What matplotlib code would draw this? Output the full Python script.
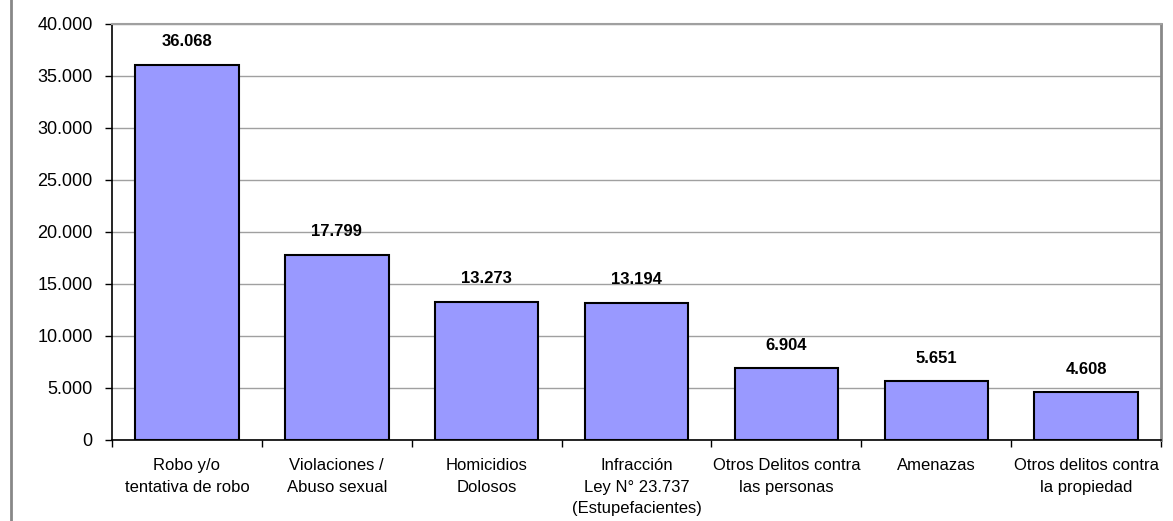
# Bar chart: number of cases per crime type (Spanish labels, Excel style)

import matplotlib.pyplot as plt
from matplotlib.lines import Line2D
from matplotlib.ticker import FuncFormatter, MultipleLocator, FixedLocator

# Data
categories = [
    "Robo y/o\ntentativa de robo",
    "Violaciones /\nAbuso sexual",
    "Homicidios\nDolosos",
    "Infracción\nLey N° 23.737\n(Estupefacientes)",
    "Otros Delitos contra\nlas personas",
    "Amenazas",
    "Otros delitos contra\nla propiedad",
]
values = [36068, 17799, 13273, 13194, 6904, 5651, 4608]

bar_color = '#9999FF'
grid_color = '#A0A0A0'

plt.rcParams['font.family'] = 'Liberation Sans'


def miles(v, pos=None):
    # thousands separator with a dot
    return f"{int(v):,}".replace(",", ".")


fig = plt.figure(figsize=(11.73, 5.21), dpi=100)
ax = fig.add_axes([0.0955, 0.1555, 0.8943, 0.7985])

x = range(len(values))
ax.bar(x, values, width=0.69, color=bar_color, edgecolor='black', linewidth=1.5, zorder=3)

# value labels above bars
for xi, v in zip(x, values):
    ax.annotate(miles(v), (xi, v), xytext=(0, 23), textcoords='offset pixels',
                ha='center', va='center', fontsize=12, fontweight='bold')

ax.set_xlim(-0.5, len(values) - 0.5)
ax.set_ylim(0, 40000)
ax.yaxis.set_major_locator(MultipleLocator(5000))
ax.yaxis.set_major_formatter(FuncFormatter(miles))
ax.grid(axis='y', color=grid_color, linewidth=1, zorder=0)

# category labels centred, ticks between categories
ax.set_xticks(list(x))
ax.set_xticklabels(categories, fontsize=12, linespacing=1.55)
ax.tick_params(axis='x', length=0, pad=13)
ax.xaxis.set_minor_locator(FixedLocator([i + 0.5 for i in range(-1, len(values))]))
ax.tick_params(axis='x', which='minor', length=5, width=1, direction='out', color='black')
ax.tick_params(axis='y', length=5, width=1, direction='out', labelsize=13, pad=9)

ax.spines['left'].set_color('black')
ax.spines['bottom'].set_color('black')
ax.spines['left'].set_linewidth(1.2)
ax.spines['bottom'].set_linewidth(1.2)
ax.spines['right'].set_color('#888888')
ax.spines['right'].set_linewidth(2)
ax.spines['top'].set_color(grid_color)
ax.spines['top'].set_linewidth(1.5)

# left border of the outer chart frame
fig.add_artist(Line2D([0.0094, 0.0094], [0, 1], transform=fig.transFigure, color='#888888', linewidth=2))

plt.savefig('out.png', dpi=100)
